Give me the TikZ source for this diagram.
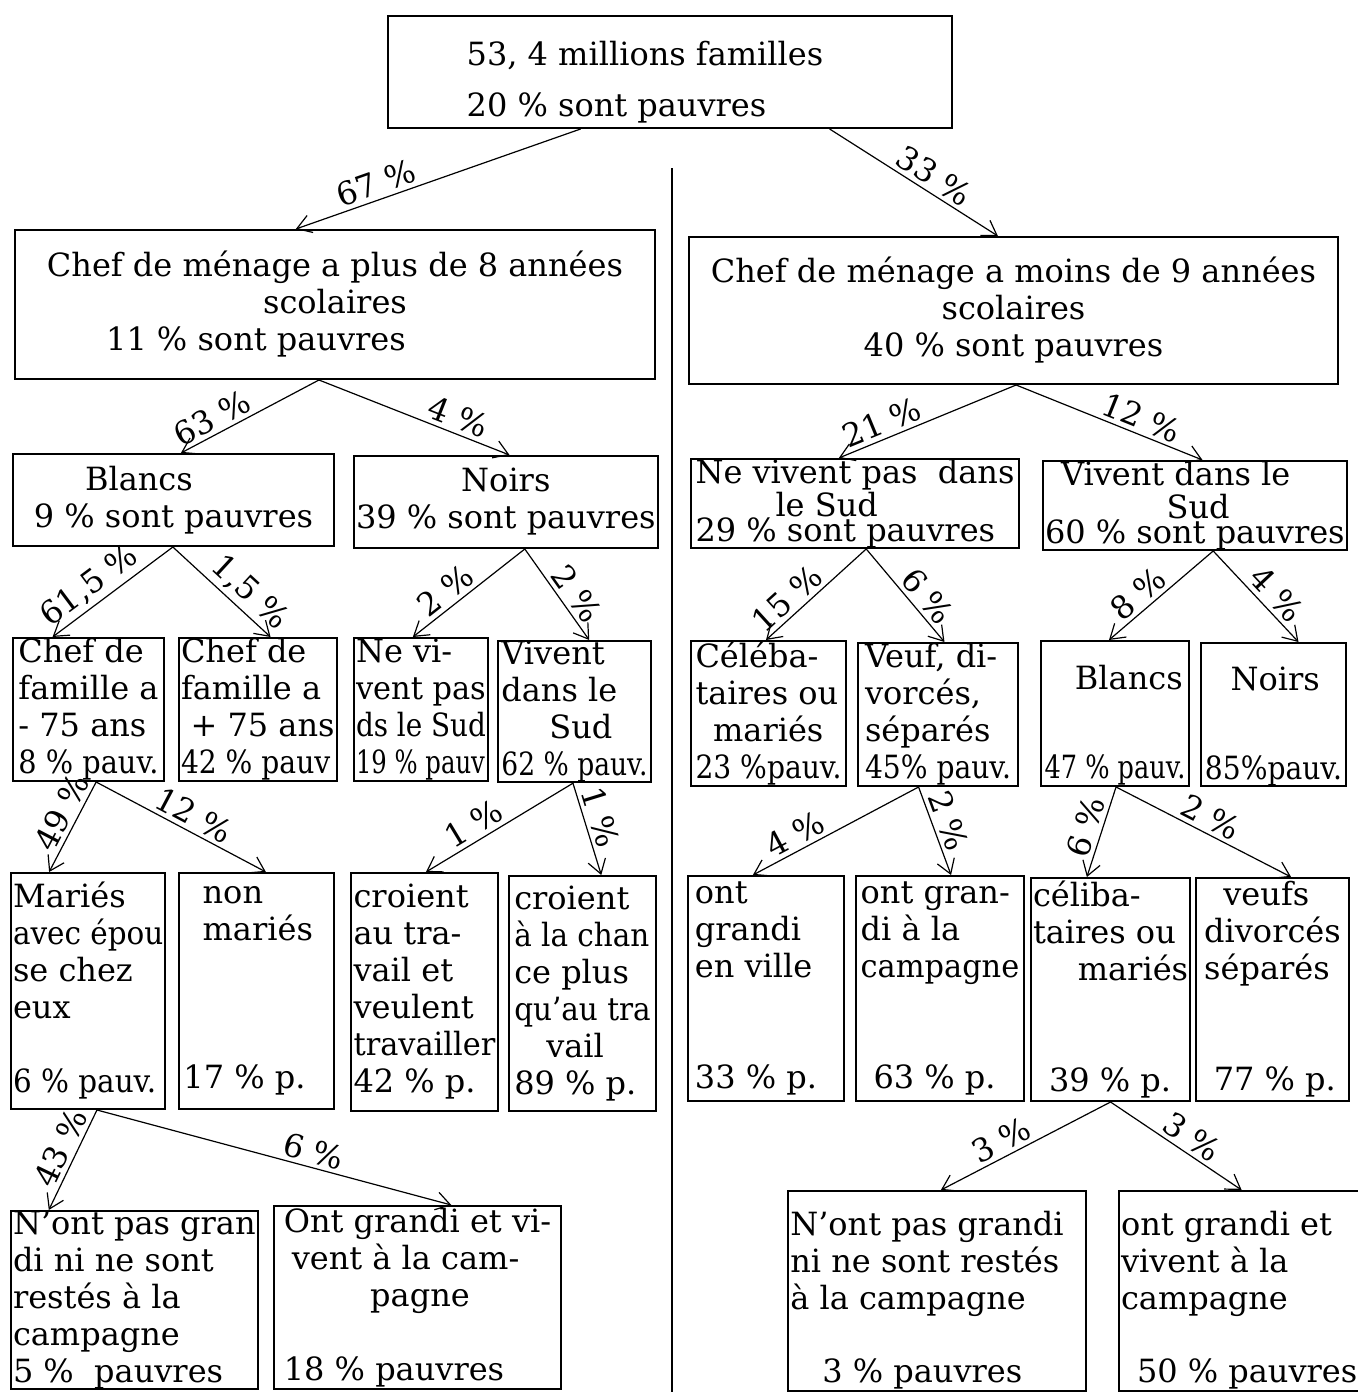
\documentclass[tikz,border=0pt]{standalone}
\usepackage{fontspec}
\setmainfont{DejaVu Serif}
\usepackage{graphicx}
\usetikzlibrary{arrows.meta, calc}
\newcommand{\sq}[2][0.8]{\scalebox{#1}[1]{#2}}
\tikzset{
  box/.style 2 args={draw, line width=1pt, anchor=north west, align=left,
    minimum width=#1*0.5pt, minimum height=#2*0.5pt, inner xsep=1pt, inner ysep=0pt,
    font=\fontsize{16}{18.5}\selectfont},
  arr/.style={-{Straight Barb[length=7pt, width=9pt]}, line width=0.6pt},
  lbl/.style={sloped, above, inner sep=2pt, font=\fontsize{16}{18.5}\selectfont}
}

\begin{document}
\begin{tikzpicture}[x=0.5pt, y=-0.5pt]
\useasboundingbox (0,0) rectangle (1357,1392);

\node[box={564}{112}] (tot) at (387,15) {\mbox{}\\[3.5pt]53, 4 millions familles\rule{25pt}{0pt}\\[7pt]20 \% sont pauvres};

\node[box={640}{149}, align=center] (sup8) at (14,229) {Chef de ménage a plus de 8 années\\scolaires\\11 \% sont pauvres\hspace*{79pt}};
\node[box={649}{147}, align=center] (inf9) at (688,236) {Chef de ménage a moins de 9 années\\scolaires\\40 \% sont pauvres};

\node[box={321}{92}] (bl) at (12,453) {\hspace*{1.6em}Blancs\\9 \% sont pauvres};
\node[box={297}{92}, align=center] (no) at (353,455) {Noirs\\39 \% sont pauvres};
\node[box={328}{87}] (nsud) at (690,458) {Ne vivent pas\ \ dans\\[-2pt]\hspace*{2.5em}le Sud\\[-6pt]29 \% sont pauvres};
\node[box={295}{87}] (sud) at (1042,460) {\hspace*{0.5em}Vivent dans le\\[-2pt]\hspace*{3.8em}Sud\\[-6pt]60 \% sont pauvres};

\node[box={151}{143}] (m75) at (12,637) {Chef de\\famille a\\- 75 ans\\\sq[0.9]{8 \% pauv.}};
\node[box={155}{143}] (p75) at (178,637) {Chef de\\famille a\\\hspace*{0.3em}+ 75 ans\\\sq[0.88]{42 \% pauv}};
\node[box={134}{143}] (nhs) at (353,637) {Ne vi-\\\sq[0.95]{vent pas}\\\sq[0.87]{ds le Sud}\\\sq[0.76]{19 \% pauv}};
\node[box={153}{140}] (ns) at (497,640) {Vivent\\dans le\\\hspace*{1.5em}Sud\\\sq[0.83]{62 \% pauv.}};

\node[box={155}{145}] (cel) at (690,640) {Céléba-\\taires ou\\\hspace*{0.55em}mariés\\\sq[0.88]{23 \%pauv.}};
\node[box={160}{143}] (veu) at (857,642) {Veuf, di-\\vorcés,\\séparés\\\sq[0.88]{45\% pauv.}};
\node[box={148}{145}] (bs) at (1040,640) {\mbox{}\\[5pt]\hspace*{0.95em}Blancs\\[26pt]\sq[0.8]{47 \% pauv.}};
\node[box={145}{143}] (nos) at (1200,642) {\mbox{}\\[5pt]\hspace*{0.8em}Noirs\\[26pt]\sq[0.88]{85\%pauv.}};

\node[box={153}{236}] (mar) at (10,872) {Mariés\\\sq[0.92]{avec épou}\\se chez\\eux\\[18.5pt]\sq[0.92]{6 \% pauv.}};
\node[box={155}{236}] (nmar) at (178,872) {\hspace*{0.6em}non\\\hspace*{0.6em}mariés\\[55.5pt]17 \% p.\rule{12pt}{0pt}};
\node[box={147}{238}] (trav) at (350,872) {croient\\au tra-\\vail et\\veulent\\\sq[0.95]{travailler}\\42 \% p.};
\node[box={147}{235}] (chance) at (508,875) {croient\\\sq[0.92]{à la chan}\\ce plus\\\sq[0.92]{qu'au tra}\\\hspace*{1em}vail\\89 \% p.};

\node[box={156}{225}] (ville) at (687,875) {ont\\grandi\\en ville\\[37pt]33 \% p.\rule{10pt}{0pt}};
\node[box={168}{225}] (camp) at (855,875) {ont gran-\\di à la\\\sq[0.95]{campagne}\\[37pt]\hspace*{0.4em}63 \% p.};
\node[box={150}{223}] (cel2) at (1030,877) {céliba-\\taires ou\\\hspace*{1.4em}mariés\\[37pt]\hspace*{0.5em}39 \% p.};
\node[box={153}{223}] (veu2) at (1195,877) {\hspace*{0.6em}veufs\\divorcés\\séparés\\[37pt]\hspace*{0.3em}77 \% p.};

\node[box={243}{178}] (ngr) at (10,1210) {N'ont pas gran\\di ni ne sont\\restés à la\\campagne\\5 \%\ \ pauvres};
\node[box={287}{183}] (gr) at (273,1205) {Ont grandi et vi-\\\hspace*{0.25em}vent à la cam-\\\hspace*{2.7em}pagne\\[18.5pt]18 \% pauvres};
\node[box={298}{200}] (ngr2) at (787,1190) {\mbox{}\\[3pt]N'ont pas grandi\rule{10pt}{0pt}\\ni ne sont restés\\à la campagne\\[18pt]\hspace*{1em}3 \% pauvres};
\node[box={239}{200}] (gr2) at (1118,1190) {\mbox{}\\[3pt]ont grandi et\\vivent à la\\campagne\\[18pt]\hspace*{0.5em}50 \% pauvres};

\coordinate (septop) at (672,168);
\coordinate (sepbot) at (672,1392);
\draw[line width=0.8pt] (septop) -- (sepbot);

\foreach \src/\fs/\dst/\fd/\lab/\p in {
  tot/.342/sup8/.439/67 \%/.7, tot/.782/inf9/.476/33 \%/.57,
  sup8/.475/bl/.523/63 \%/.72, sup8/.475/no/.512/4 \%/.7,
  inf9/.504/nsud/.451/21 \%/.72, inf9/.504/sud/.525/12 \%/.64,
  bl/.498/m75/.265/61{,}5 \%/.6, bl/.498/p75/.58/1{,}5 \%/.66,
  no/.562/nhs/.44/2 \%/.62, no/.562/ns/.595/2 \%/.6,
  nsud/.534/cel/.484/15 \%/.68, nsud/.534/veu/.54/6 \%/.62,
  sud/.56/bs/.46/8 \%/.62, sud/.56/nos/.67/4 \%/.6,
  m75/.55/mar/.25/49 \%/.42, m75/.55/nmar/.56/12 \%/.53,
  ns/.49/trav/.51/1 \%/.62, ns/.49/chance/.626/1 \%/.42,
  veu/.38/ville/.417/4 \%/.7, veu/.38/camp/.565/2 \%/.45,
  bs/.507/cel2/.353/6 \%/.5, bs/.507/veu2/.62/2 \%/.5,
  mar/.556/ngr/.156/43 \%/.45, mar/.556/gr/.617/6 \%/.6,
  cel2/.5/ngr2/.513/3 \%/.6, cel2/.5/gr2/.51/3 \%/.55}
  \draw[arr] ($(\src.south west)!\fs!(\src.south east)$) -- node[lbl, pos=\p] {\lab} ($(\dst.north west)!\fd!(\dst.north east)$);

\end{tikzpicture}
\end{document}
